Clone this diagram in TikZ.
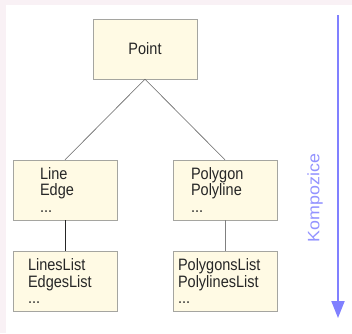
\documentclass[tikz,border=0pt]{standalone}
\usepackage{fontspec}
\setmainfont{Liberation Sans}[FakeStretch=0.88]
\newfontfamily\kompfont{Liberation Sans}[FakeStretch=1.08]
\usetikzlibrary{arrows.meta,positioning}
\definecolor{boxfill}{RGB}{255,250,228}
\definecolor{boxline}{RGB}{165,165,160}
\definecolor{kompblue}{RGB}{128,128,255}
\definecolor{pagepink}{RGB}{249,241,245}

\begin{document}
\begin{tikzpicture}[
    x=1pt, y=-1pt,
    node distance=31pt,
    box/.style={rectangle, draw=boxline, fill=boxfill, minimum width=104pt, minimum height=60pt, inner ysep=0pt, align=left, text=black!85, font=\fontsize{16.5}{16.5}\selectfont},
    conn/.style={draw=black!60, line width=0.6pt},
    arrow/.style={-{Triangle[width=13pt,length=17pt]}, kompblue, line width=2pt}
]

% Page
\fill[pagepink] (0,0) rectangle (352,333);
\fill[white] (6,5) rectangle (352,333);
\useasboundingbox (0,0) rectangle (352,333);

% Level 1
\node[box, align=center] (point) at (145,49) {Point};

% Level 2
\node[box, text width=50pt, inner xsep=27pt] (line) at (65,190) {Line\\Edge\\...};
\node[box, text width=68pt, inner xsep=18pt] (polygon) at (225,190) {Polygon\\Polyline\\...};

% Level 3
\node[box, text width=74pt, inner xsep=15pt, below=of line] (lineslist) {LinesList\\EdgesList\\...};
\node[box, text width=94pt, inner xsep=5pt, below=of polygon] (polygonslist) {PolygonsList\\PolylinesList\\...};

\draw[conn] (point.south) -- (line.north);
\draw[conn] (point.south) -- (polygon.north);
\draw[conn, draw=black!85] (line) -- (lineslist);
\draw[conn, draw=black!50, line width=1pt] (polygon) -- (polygonslist);

% Composition direction
\coordinate (ktop) at (338,15);
\coordinate (kbot) at (338,318);
\draw[arrow] (ktop) -- (kbot);
\node[rotate=90, text=kompblue!85, font=\kompfont\fontsize{16.5}{16.5}\selectfont] (komp) at (315,198) {Kompozice};

\end{tikzpicture}
\end{document}
